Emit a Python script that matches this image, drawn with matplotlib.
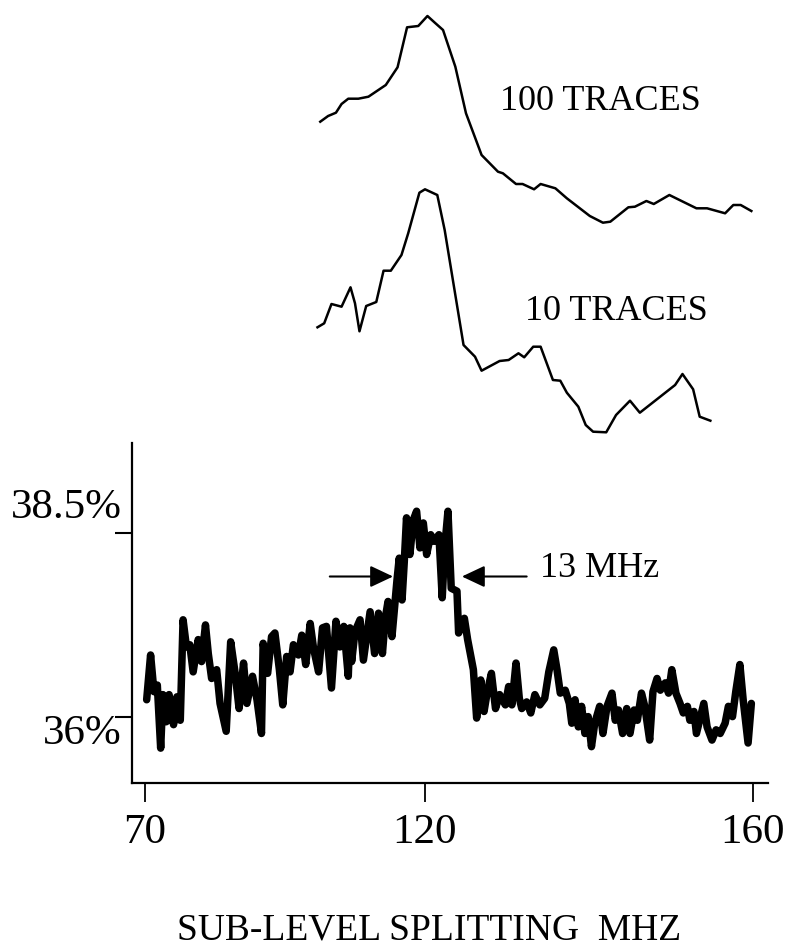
import numpy as np
import matplotlib.pyplot as plt

plt.rcParams['font.family'] = ['Liberation Serif', 'DejaVu Serif']

# averaged traces (MHz, arbitrary units, shifted for display)
freq_100 = [101.3, 102.7, 104.1, 105.1, 106.3, 108.1, 109.9, 113.0, 115.1, 116.8,
            118.8, 120.3, 121.2, 122.2, 123.7, 125.0, 126.9, 128.9, 129.5, 131.1,
            131.9, 133.3, 134.1, 135.9, 137.3, 140.1, 141.7, 142.6, 144.8, 145.6,
            147.0, 147.9, 149.8, 153.1, 154.4, 156.6, 157.6, 158.5, 159.8]
sig_100 = [118.3, 124.0, 127.3, 136.0, 141.3, 141.3, 143.3, 155.0, 172.7, 212.7,
           214.0, 224.0, 217.3, 210.0, 173.3, 126.7, 85.0, 68.3, 66.7, 56.0,
           56.0, 50.7, 56.0, 51.7, 41.7, 24.0, 17.3, 18.3, 32.7, 33.3,
           39.0, 36.0, 45.0, 31.7, 31.7, 26.7, 35.0, 35.0, 29.0]
offset_100 = 200

freq_10 = [100.8, 102.0, 103.3, 105.1, 106.7, 107.5, 108.3, 109.5, 111.3, 112.6,
           113.9, 115.8, 117.0, 119.0, 120.0, 121.5, 122.4, 124.7, 126.1, 126.9,
           129.1, 130.2, 131.4, 132.1, 133.2, 134.1, 135.6, 136.5, 137.3, 138.7,
           139.6, 140.5, 142.1, 143.3, 145.0, 146.2, 150.5, 151.4, 152.7, 153.5,
           154.8]
sig_10 = [112.7, 116.7, 136.0, 133.3, 152.7, 136.7, 108.7, 134.0, 138.0, 169.3,
          169.3, 185.0, 206.7, 247.3, 250.7, 245.0, 210.0, 95.0, 83.3, 69.3,
          79.0, 80.0, 86.7, 82.7, 93.3, 93.3, 60.0, 59.3, 47.3, 33.3,
          15.0, 8.3, 7.7, 25.0, 39.3, 27.3, 55.0, 66.0, 50.7, 23.3,
          19.3]
offset_10 = 0

# single trace (MHz, %)
freq_1 = [70.3, 71.0, 71.6, 72.2, 72.8, 73.2, 73.8, 74.3, 75.1, 75.7,
          76.3, 76.8, 77.4, 78.0, 78.6, 79.5, 80.1, 80.8, 81.3, 81.9,
          82.8, 83.4, 84.5, 85.3, 86.1, 86.8, 87.6, 88.2, 89.2, 90.0,
          90.8, 91.1, 91.9, 92.6, 93.2, 94.0, 94.6, 95.3, 95.9, 96.5,
          97.4, 98.0, 98.7, 99.5, 100.1, 101.0, 101.7, 102.4, 103.3, 104.1,
          104.8, 105.5, 106.3, 106.6, 106.9, 107.5, 108.4, 109.0, 109.8, 110.2,
          111.0, 111.7, 112.4, 112.9, 113.4, 114.1, 114.6, 115.0, 115.4, 115.9,
          116.3, 116.7, 117.3, 117.9, 118.5, 119.1, 119.7, 120.2, 120.7, 121.1,
          121.7, 122.1, 122.4, 122.8, 123.2, 123.9, 124.1, 124.8, 125.2, 125.9,
          126.3, 126.8, 127.2, 127.6, 128.1, 128.6, 129.1, 129.8, 130.2, 130.6,
          131.1, 131.5, 131.8, 132.4, 132.9, 133.4, 134.0, 134.6, 135.1, 135.7,
          136.1, 136.5, 137.1, 137.6, 137.9, 138.3, 138.7, 139.1, 139.5, 139.9,
          140.3, 140.7, 141.3, 141.7, 142.2, 142.8, 143.2, 143.6, 144.1, 144.6,
          145.0, 145.5, 145.9, 146.4, 146.8, 147.4, 147.8, 148.3, 148.7, 149.3,
          149.7, 150.1, 150.6, 151.1, 151.5, 152.0, 152.3, 152.8, 153.1, 153.6,
          154.0, 154.4, 155.0, 155.5, 156.0, 156.6, 157.0, 157.5, 157.9, 158.4,
          158.8, 159.4, 159.8]
pct_1 = [36.23, 36.84, 36.34, 36.43, 35.57, 36.30, 35.93, 36.30, 35.89, 36.27,
         35.95, 37.32, 36.95, 36.98, 36.61, 37.05, 36.75, 37.25, 36.86, 36.52,
         36.64, 36.18, 35.80, 37.02, 36.59, 36.11, 36.73, 36.18, 36.55, 36.23,
         35.77, 37.00, 36.59, 37.09, 37.14, 36.64, 36.16, 36.82, 36.61, 36.98,
         36.84, 37.11, 36.71, 37.27, 36.93, 36.61, 37.21, 37.23, 36.39, 37.30,
         36.95, 37.23, 36.55, 37.21, 36.75, 37.16, 37.32, 36.77, 37.21, 37.43,
         36.86, 37.41, 36.86, 37.34, 37.57, 37.09, 37.52, 37.86, 38.16, 37.59,
         38.11, 38.71, 38.21, 38.68, 38.80, 38.30, 38.64, 38.21, 38.48, 38.39,
         38.48, 37.62, 38.30, 38.80, 37.75, 37.71, 37.14, 37.34, 37.05, 36.64,
         35.98, 36.50, 36.07, 36.34, 36.59, 36.11, 36.30, 36.16, 36.41, 36.16,
         36.73, 36.25, 36.11, 36.20, 36.05, 36.30, 36.16, 36.25, 36.61, 36.91,
         36.64, 36.32, 36.36, 36.18, 35.91, 36.23, 35.86, 36.14, 35.77, 36.00,
         35.59, 35.91, 36.14, 35.77, 36.14, 36.32, 35.95, 36.09, 35.77, 36.11,
         35.77, 36.09, 35.95, 36.32, 36.14, 35.68, 36.34, 36.52, 36.36, 36.46,
         36.32, 36.64, 36.32, 36.18, 36.05, 36.14, 35.95, 36.07, 35.77, 36.00,
         36.18, 35.86, 35.68, 35.82, 35.77, 35.91, 36.14, 36.00, 36.34, 36.71,
         36.23, 35.64, 36.18]

x_ticks = [70, 120, 160]
x_tick_labels = ['70', '120', '160']
y_ticks = [36, 38.5]
y_tick_labels = ['36%', '38.5%']

# FWHM markers
fwhm_left = (103.0, 114.3)
fwhm_right = (132.4, 124.5)
fwhm_level = 37.91


# the printed frequency axis is not linear: 70-120 is squeezed compared with 120-160
def fwd(x):
    x = np.asarray(x, dtype=float)
    return np.where(x < 120, (x - 70) * 5.6, 280 + (x - 120) * 8.2)


def inv(u):
    u = np.asarray(u, dtype=float)
    return np.where(u < 280, 70 + u / 5.6, 120 + (u - 280) / 8.2)


fig = plt.figure(figsize=(7.87, 9.49), dpi=100)
W, H = 787, 949
ax = fig.add_axes([132 / W, (H - 783) / H, 636 / W, 340 / H])
ax_top = fig.add_axes([132 / W, (H - 440) / H, 636 / W, 440 / H], sharex=ax)

ax.set_xscale('function', functions=(fwd, inv))
ax.set_xlim(67.68, 161.83)
ax.set_ylim(35.095, 39.73)

ax.plot(freq_1, pct_1, color='black', lw=5.4, solid_joinstyle='round',
        solid_capstyle='round')

for s in ['top', 'right']:
    ax.spines[s].set_visible(False)
for s in ['left', 'bottom']:
    ax.spines[s].set_linewidth(1.6)

ax.set_xticks(x_ticks)
ax.set_xticklabels(x_tick_labels, fontsize=31)
ax.tick_params(axis='x', direction='out', length=14, width=1.3, pad=8)
ax.set_yticks(y_ticks)
ax.set_yticklabels([])
ax.tick_params(axis='y', direction='out', length=12, width=1.5)

# y labels sit a little off their ticks in the original
ax.text(-0.016, 38.71, y_tick_labels[1], transform=ax.get_yaxis_transform(),
        ha='right', va='baseline', fontsize=31)
ax.text(-0.016, 35.63, y_tick_labels[0], transform=ax.get_yaxis_transform(),
        ha='right', va='baseline', fontsize=31)

arrow = dict(arrowstyle='-|>,head_length=0.7,head_width=0.33', color='black',
             lw=1.5, shrinkA=0, shrinkB=0, mutation_scale=20)
ax.annotate('', xy=(fwhm_left[1], fwhm_level), xytext=(fwhm_left[0], fwhm_level),
            arrowprops=arrow)
ax.annotate('', xy=(fwhm_right[1], fwhm_level), xytext=(fwhm_right[0], fwhm_level),
            arrowprops=arrow)
ax.text(134.0, 37.91, '13 MHz', fontsize=26, ha='left', va='baseline')

# averaged traces above
ax_top.axis('off')
ax_top.set_ylim(0, 440)
ax_top.plot(freq_100, np.array(sig_100) + offset_100, color='black', lw=1.8)
ax_top.plot(freq_10, np.array(sig_10) + offset_10, color='black', lw=1.8)
ax_top.text(129.1, 330, '100 TRACES', fontsize=26, ha='left', va='baseline')
ax_top.text(132.2, 120, '10 TRACES', fontsize=26, ha='left', va='baseline')

fig.text(429 / W, (H - 940) / H, 'SUB-LEVEL SPLITTING  MHZ', fontsize=27,
         ha='center', va='baseline')

fig.savefig('out.png', dpi=100)
